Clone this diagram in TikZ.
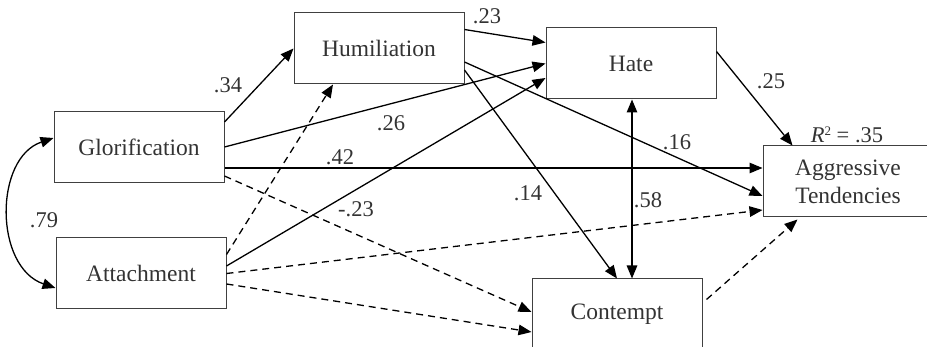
\documentclass[tikz,border=0pt]{standalone}
\usepackage{fontspec}
\setmainfont{Liberation Serif}
\usetikzlibrary{arrows.meta}
\definecolor{txtgray}{HTML}{333333}
\definecolor{boxgray}{HTML}{404040}
\begin{document}
\begin{tikzpicture}[x=1pt,y=-1pt,
  box/.style={draw=boxgray, line width=1pt, minimum width=170pt, minimum height=71pt,
    inner sep=0pt, text=txtgray, font=\fontsize{23.5}{28}\selectfont, align=center},
  conn/.style={line width=1.3pt, -{Triangle[length=13pt,width=10.5pt]}},
  dconn/.style={conn, dash pattern=on 7pt off 5pt},
  biconn/.style={line width=1.3pt, {Triangle[length=13pt,width=10.5pt]}-{Triangle[length=13pt,width=10.5pt]}},
  lbl/.style={text=txtgray, font=\fontsize{22.5}{26}\selectfont, inner sep=0pt}]
\useasboundingbox (0,0) rectangle (927,347);
\clip (0,0) rectangle (927,347);

\node[box] (glor) at (139,147) {Glorification};
\node[box] (att) at (141,273.5) {Attachment};
\node[box] (hum) at (379,48.5) {Humiliation};
\node[box] (hate) at (631,63.5) {Hate};
\node[box] (agg) at (848,181.5) {Aggressive\\Tendencies};
\node[box] (cont) at (617,314.5) {Contempt};

% connectors
\draw[conn] ([yshift=-11pt]glor.north east) -- (hum.west);
\draw[dconn] ([yshift=-17pt]att.north east) -- ([xshift=-46pt]hum.south);
\draw[conn] (glor.east) -- (hate.west);
\draw[conn] ([yshift=7.5pt]att.east) -- ([yshift=-14.5pt]hate.west);
\draw[conn] ([yshift=-17pt]hum.north east) -- ([yshift=-15pt]hate.north west);
\draw[conn] ([yshift=-13.5pt]hum.east) -- ([yshift=-14.5pt]agg.west);
\draw[conn] ([yshift=-21.5pt]hum.east) -- (cont.north);
\draw[conn] ([yshift=-21pt]glor.east) -- ([yshift=13.5pt]agg.west);
\draw[dconn] ([yshift=-29pt]glor.east) -- ([yshift=2.5pt]cont.west);
\draw[dconn] (att.east) -- ([yshift=-28.5pt]agg.west);
\draw[dconn] ([yshift=-10.5pt]att.east) -- ([yshift=-17.5pt]cont.west);
\draw[biconn] ([xshift=1pt]hate.south) -- ([xshift=1pt]hate.south |- cont.north);
\draw[conn] ([yshift=-24pt]hate.north east) -- ([xshift=30pt]agg.north west);
\draw[dconn] ([xshift=4pt,yshift=-21pt]cont.north east) -- ([xshift=35pt,yshift=-2pt]agg.south west);
\draw[biconn] ([yshift=9pt]glor.west) .. controls (-6,158) and (-6,267) .. ([yshift=-14.5pt]att.west);

% labels
\node[lbl] (l34) at (228,85) {.34};
\node[lbl] (l23) at (487,16) {.23};
\node[lbl] (l26) at (391,123) {.26};
\node[lbl] (l42) at (340,157) {.42};
\node[lbl] (lm23) at (356,209) {-.23};
\node[lbl] (l14) at (528,193) {.14};
\node[lbl] (l58) at (648,200) {.58};
\node[lbl] (l16) at (677,142) {.16};
\node[lbl] (l25) at (771,81) {.25};
\node[lbl] (lr2) at (847,135) {{\itshape R}\raisebox{7pt}{\fontsize{13}{14}\selectfont 2} = .35};
\node[lbl] (l79) at (44,220) {.79};
\end{tikzpicture}
\end{document}
